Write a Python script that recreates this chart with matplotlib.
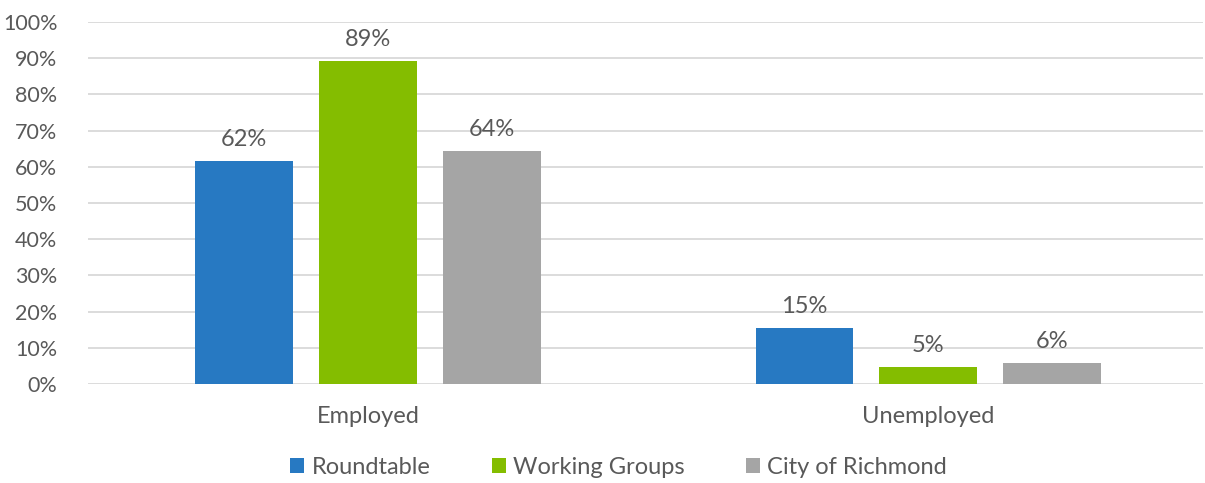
import matplotlib
matplotlib.use("Agg")
import matplotlib.pyplot as plt
import numpy as np

categories = ["Employed", "Unemployed"]
series = ["Roundtable", "Working Groups", "City of Richmond"]
roundtable = [61.7, 15.4]
working_groups = [89.1, 4.6]
city = [64.4, 5.7]
labels_rt = ["62%", "15%"]
labels_wg = ["89%", "5%"]
labels_city = ["64%", "6%"]
yticks = [0, 10, 20, 30, 40, 50, 60, 70, 80, 90, 100]

colors = ["#2779C2", "#84BD00", "#A5A5A5"]
text_color = "#595959"
plt.rcParams['font.family'] = ['Lato', 'DejaVu Sans']

fig = plt.figure(figsize=(12.05, 4.83), dpi=100)
ax = fig.add_axes([88/1205, 1-384/483, (1203-88)/1205, (384-22)/483])

x = np.arange(len(categories))
width = 0.1748
step = 0.2212
data = [roundtable, working_groups, city]
labs = [labels_rt, labels_wg, labels_city]
for i, (vals, lab, c, name) in enumerate(zip(data, labs, colors, series)):
    pos = x + (i - 1) * step
    bars = ax.bar(pos, vals, width, color=c, label=name, zorder=3)
    for b, t in zip(bars, lab):
        ax.annotate(t, (b.get_x() + b.get_width()/2, b.get_height()),
                    xytext=(0, 8), textcoords="offset points",
                    ha="center", va="bottom", fontsize=17, color=text_color)

ax.set_xlim(-0.4996, 1.4898)
ax.set_ylim(0, 100)
ax.set_yticks(yticks)
ax.set_yticklabels([f"{t}%" for t in yticks])
ax.set_xticks(x)
ax.set_xticklabels(categories)
ax.tick_params(axis='both', length=0, colors=text_color)
ax.tick_params(axis='y', labelsize=15.5, pad=22)
ax.tick_params(axis='x', labelsize=17, pad=16)
ax.grid(axis='y', color="#D9D9D9", linewidth=1.3, zorder=0)
for s in ax.spines.values():
    s.set_visible(False)

leg = ax.legend(loc='center', bbox_to_anchor=(0.4758, -0.23), ncol=3, frameon=False,
                fontsize=17, handlelength=0.6, handleheight=0.6, handletextpad=0.3,
                columnspacing=2.6, labelcolor=text_color)

fig.savefig("out.png", dpi=100)
